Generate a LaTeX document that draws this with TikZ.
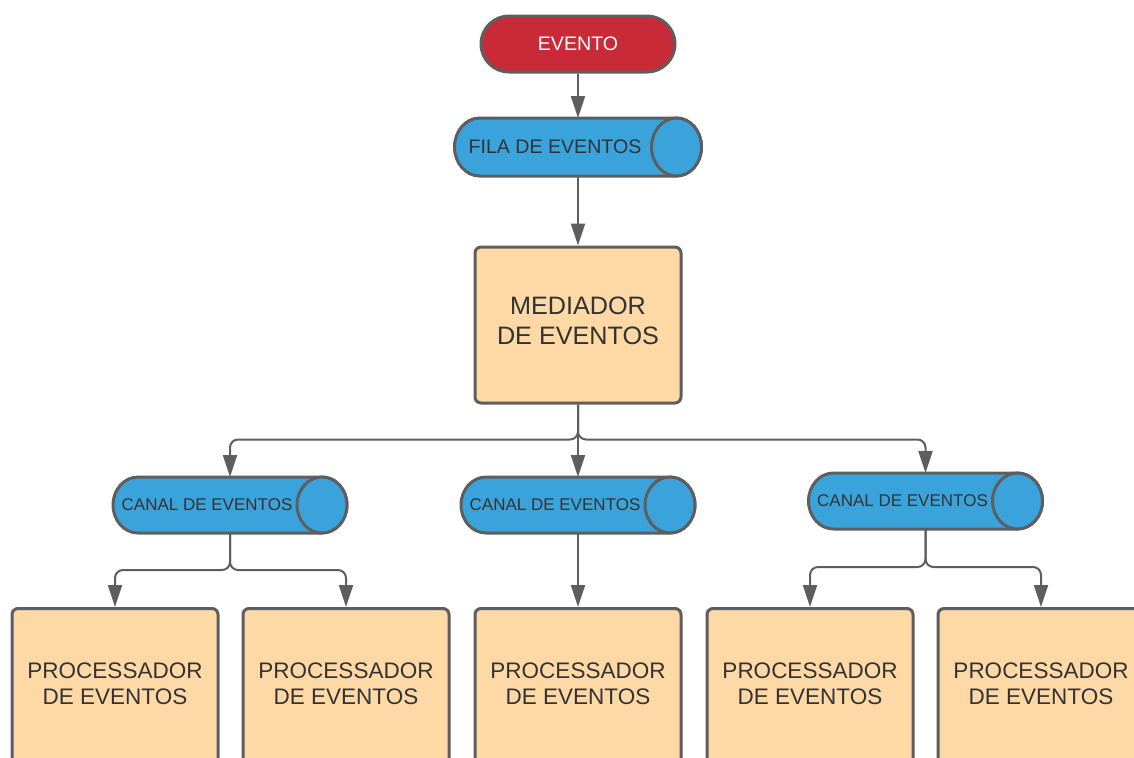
\documentclass[tikz,border=0pt]{standalone}
\usepackage{fontspec}
\setmainfont{Liberation Sans}
\usetikzlibrary{arrows.meta,backgrounds}
\definecolor{lineg}{HTML}{5E5E5E}
\definecolor{evred}{HTML}{C82A38}
\definecolor{tubeblue}{HTML}{3AA3DB}
\definecolor{peach}{HTML}{FED9A6}
\definecolor{txt}{HTML}{333333}

\begin{document}
\begin{tikzpicture}[x=0.5pt,y=-0.5pt,
  text=txt,
  start/.style={draw=lineg, line width=1.5pt, fill=evred, rounded corners=14pt,
    minimum width=97pt, minimum height=28pt, inner sep=0, text=white,
    font=\fontsize{9.8pt}{11pt}\selectfont},
  tube/.style={rectangle, inner sep=0, outer sep=0, minimum width=117pt,
    minimum height=28pt, font=\fontsize{8.5pt}{10pt}\selectfont},
  tubeline/.style={draw=lineg, line width=1.5pt, fill=tubeblue},
  box/.style={draw=lineg, line width=1.5pt, fill=peach, rounded corners=3pt,
    align=center, inner sep=0, minimum width=103pt},
  conn/.style={draw=lineg, line width=1pt, rounded corners=4pt,
    -{Triangle[length=11pt,width=7pt]}}
]
\useasboundingbox (0,0) rectangle (1134,757);
\clip (0,0) rectangle (1134,757);

% top of the flow
\node[start] (evento) at (578,44) {EVENTO};
\node[tube, minimum width=123.5pt, minimum height=29pt,
  font=\fontsize{9.8pt}{11pt}\selectfont] (fila) at (578,147) {FILA DE EVENTOS\kern23pt};
\node[box, minimum height=78pt, font=\fontsize{12.6pt}{15pt}\selectfont]
  (med) at (578,325) {MEDIADOR\\DE EVENTOS\rule[-4pt]{0pt}{4pt}};

% event channels
\node[tube] (c1) at (230,505) {CANAL DE EVENTOS\kern23pt};
\node[tube] (c2) at (578,505) {CANAL DE EVENTOS\kern23pt};
\node[tube] (c3) at (925.5,501) {CANAL DE EVENTOS\kern23pt};

% event processors (run off the lower edge)
\tikzset{proc/.style={box, anchor=north, minimum height=85pt,
  font=\fontsize{11.25pt}{13.3pt}\selectfont}}
\node[proc] (p1) at (115,607) {PROCESSADOR\\DE EVENTOS\rule[-10pt]{0pt}{10pt}};
\node[proc] (p2) at (346,607) {PROCESSADOR\\DE EVENTOS\rule[-10pt]{0pt}{10pt}};
\node[proc] (p3) at (578,607) {PROCESSADOR\\DE EVENTOS\rule[-10pt]{0pt}{10pt}};
\node[proc] (p4) at (810,607) {PROCESSADOR\\DE EVENTOS\rule[-10pt]{0pt}{10pt}};
\node[proc] (p5) at (1041,607) {PROCESSADOR\\DE EVENTOS\rule[-10pt]{0pt}{10pt}};

% cylinder bodies behind the channel labels
\begin{scope}[on background layer]
  \foreach \n/\ry in {fila/14.5pt, c1/14pt, c2/14pt, c3/14pt} {
    \draw[tubeline] ([xshift=12.5pt]\n.north west) -- ([xshift=-12.5pt]\n.north east)
      arc[start angle=90, end angle=-90, x radius=12.5pt, y radius=\ry]
      -- ([xshift=12.5pt]\n.south west)
      arc[start angle=270, end angle=90, x radius=12.5pt, y radius=\ry] -- cycle;
    \draw[tubeline] ([xshift=-12.5pt]\n.east) ellipse[x radius=12.5pt, y radius=\ry];
  }
\end{scope}

% connectors
\draw[conn] (evento.south) -- (fila.north);
\draw[conn] (fila.south) -- (med.north);
\draw[conn] (med.south) -- (c2.north);
\draw[conn] (med.south) -- ++(0,35) -| (c1.north);
\draw[conn] (med.south) -- ++(0,35) -| (c3.north);
\draw[conn] (c1.south) -- ++(0,37) -| (p1.north);
\draw[conn] (c1.south) -- ++(0,37) -| (p2.north);
\draw[conn] (c2.south) -- (p3.north);
\draw[conn] (c3.south) -- ++(0,38) -| (p4.north);
\draw[conn] (c3.south) -- ++(0,38) -| (p5.north);
\end{tikzpicture}
\end{document}
